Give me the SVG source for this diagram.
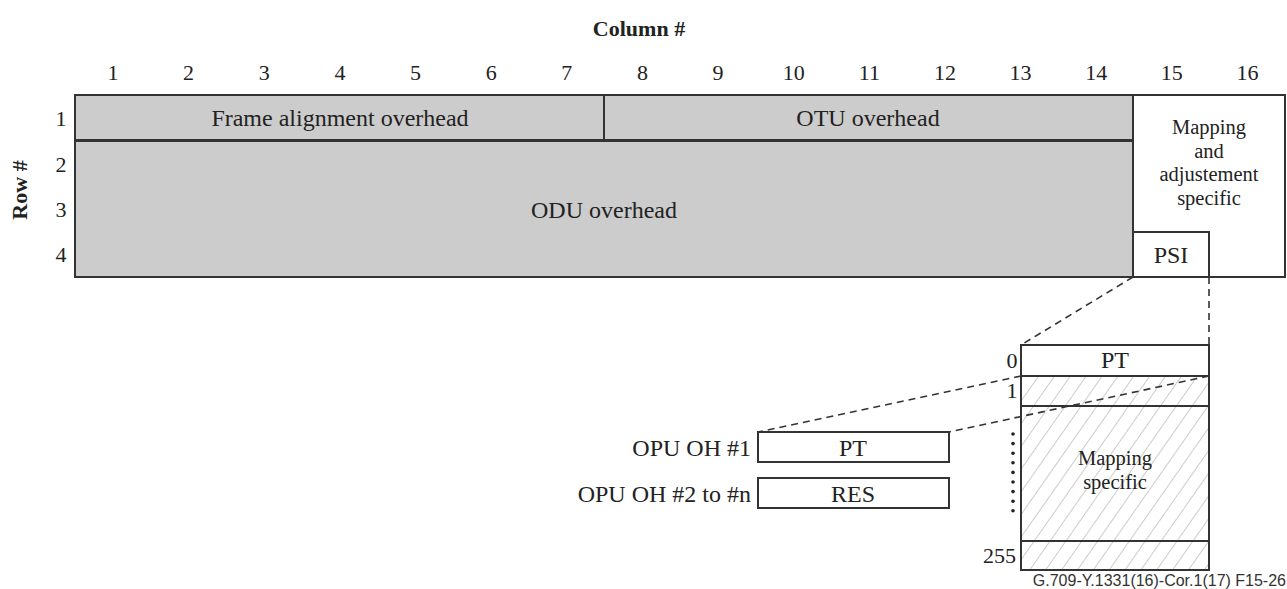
<svg xmlns="http://www.w3.org/2000/svg" width="1287" height="589" viewBox="0 0 1287 589">
<style>
text{font-family:"Liberation Serif","Times New Roman",serif;font-size:24px;fill:#222}
.n{font-size:22px}
.s{font-size:20.5px}
.b{font-weight:bold;font-size:22px}
.m{text-anchor:middle}
.e{text-anchor:end}
.g{fill:#cccccc;stroke:#333;stroke-width:2}
.w{fill:#ffffff;stroke:#333;stroke-width:2}
.h{fill:url(#hatch);stroke:#333;stroke-width:2}
.d{fill:none;stroke:#333;stroke-width:1.6;stroke-dasharray:7 5}
.cap{font-family:"Liberation Sans",Arial,sans-serif;font-size:16px;fill:#333}
</style>
<defs>
<pattern id="hatch" width="13" height="13" patternUnits="userSpaceOnUse" patternTransform="rotate(35)">
<rect width="13" height="13" fill="#fff"/>
<line x1="0" y1="0" x2="0" y2="13" stroke="#aaa" stroke-width="1.2"/>
</pattern>
</defs>
<rect width="1287" height="589" fill="#fff"/>
<g id="axis-labels">
<text class="b m" x="639" y="36">Column #</text>
<text class="b m" transform="translate(27,190) rotate(-90)">Row #</text>
<text class="n m" x="113" y="80">1</text>
<text class="n m" x="188.6" y="80">2</text>
<text class="n m" x="264.3" y="80">3</text>
<text class="n m" x="339.9" y="80">4</text>
<text class="n m" x="415.5" y="80">5</text>
<text class="n m" x="491.2" y="80">6</text>
<text class="n m" x="566.8" y="80">7</text>
<text class="n m" x="642.4" y="80">8</text>
<text class="n m" x="718" y="80">9</text>
<text class="n m" x="793.7" y="80">10</text>
<text class="n m" x="869.3" y="80">11</text>
<text class="n m" x="944.9" y="80">12</text>
<text class="n m" x="1020.6" y="80">13</text>
<text class="n m" x="1096.2" y="80">14</text>
<text class="n m" x="1171.8" y="80">15</text>
<text class="n m" x="1247.5" y="80">16</text>
<text class="n m" x="61" y="126">1</text>
<text class="n m" x="61" y="172">2</text>
<text class="n m" x="61" y="217">3</text>
<text class="n m" x="61" y="262">4</text>
</g>
<g id="frame-alignment">
<rect class="g" x="75" y="95" width="529" height="45.5"/>
<text class="m" x="340" y="126">Frame alignment overhead</text>
</g>
<g id="otu-overhead">
<rect class="g" x="604" y="95" width="529" height="45.5"/>
<text class="m" x="868" y="126">OTU overhead</text>
</g>
<g id="odu-overhead">
<rect class="g" x="75" y="140.5" width="1058" height="136.5"/>
<line x1="75" y1="140.5" x2="1133" y2="140.5" stroke="#333" stroke-width="3"/>
<text class="m" x="604" y="218">ODU overhead</text>
</g>
<g id="mapping-adjustment">
<rect class="w" x="1133" y="95" width="152" height="182"/>
<text class="s m" x="1209" y="134">Mapping</text>
<text class="s m" x="1209" y="157.5">and</text>
<text class="s m" x="1209" y="181">adjustement</text>
<text class="s m" x="1209" y="204.5">specific</text>
</g>
<g id="psi">
<rect class="w" x="1133" y="232" width="76" height="45"/>
<text class="m" x="1171" y="263">PSI</text>
</g>
<g id="psi-detail">
<rect class="w" x="1021" y="345" width="188" height="31"/>
<text class="m" x="1115" y="368">PT</text>
<rect class="h" x="1021" y="376" width="188" height="30"/>
<rect class="h" x="1021" y="406" width="188" height="135"/>
<rect class="h" x="1021" y="541" width="188" height="29"/>
<text class="s m" x="1115" y="465">Mapping</text>
<text class="s m" x="1115" y="489">specific</text>
<text class="n m" x="1012" y="368">0</text>
<text class="n m" x="1012" y="398">1</text>
<text class="n e" x="1016" y="563">255</text>
<g fill="#222">
<circle cx="1013" cy="434" r="1.8"/>
<circle cx="1013" cy="443.6" r="1.8"/>
<circle cx="1013" cy="453.2" r="1.8"/>
<circle cx="1013" cy="462.8" r="1.8"/>
<circle cx="1013" cy="472.4" r="1.8"/>
<circle cx="1013" cy="482" r="1.8"/>
<circle cx="1013" cy="491.6" r="1.8"/>
<circle cx="1013" cy="501.2" r="1.8"/>
<circle cx="1013" cy="510.8" r="1.8"/>
</g>
</g>
<g id="opu-oh-1">
<rect class="w" x="758" y="432" width="191" height="30"/>
<text class="m" x="853" y="456">PT</text>
<text class="e" x="751" y="456">OPU OH #1</text>
</g>
<g id="opu-oh-2n">
<rect class="w" x="758" y="478" width="191" height="30"/>
<text class="m" x="853" y="502">RES</text>
<text class="e" x="751" y="502">OPU OH #2 to #n</text>
</g>
<g id="connectors">
<line class="d" x1="1133" y1="277" x2="1021" y2="345"/>
<line class="d" x1="1209" y1="277" x2="1209" y2="345"/>
<line class="d" x1="1021" y1="376" x2="758" y2="432"/>
<line class="d" x1="1209" y1="376" x2="949" y2="432"/>
</g>
<text class="cap e" x="1286" y="586">G.709-Y.1331(16)-Cor.1(17)  F15-26</text>
</svg>
